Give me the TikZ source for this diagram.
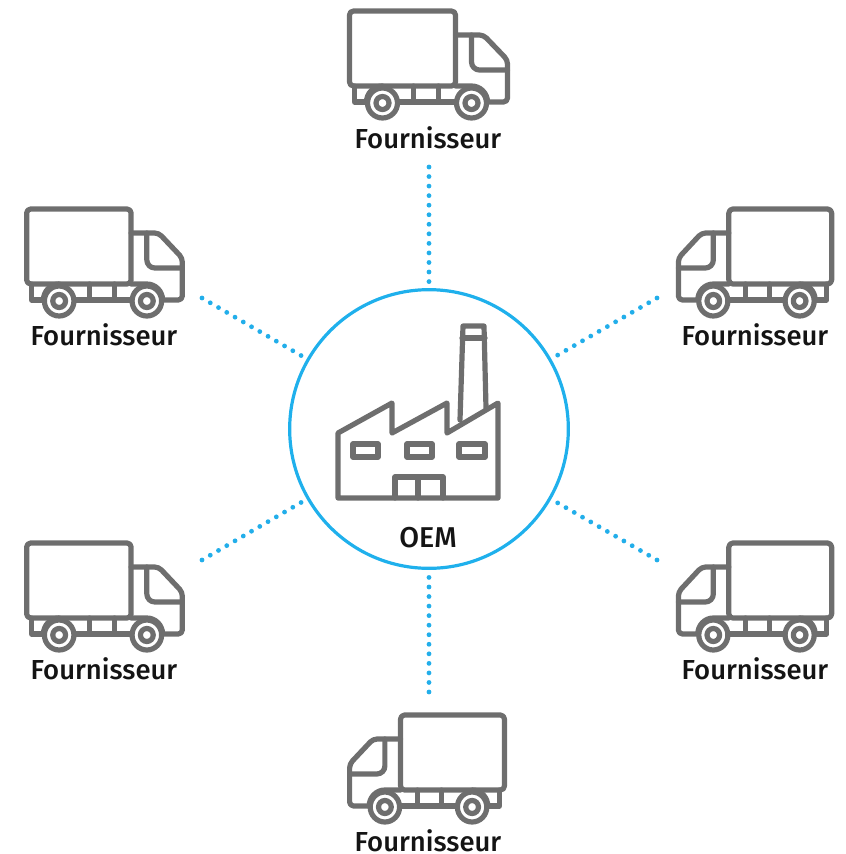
\documentclass[tikz,border=0pt]{standalone}
\usepackage{fontspec}
\usetikzlibrary{calc}
\setmainfont{Fira Sans Medium}
\definecolor{icongray}{HTML}{6E6E6E}
\definecolor{ringblue}{HTML}{1FB0EC}
\definecolor{dotblue}{HTML}{22AEEA}
\tikzset{
  x=.75pt,y=-.75pt,
  icon/.style={draw=icongray,line width=3.9pt,line join=round,line cap=round},
  label/.style={font=\fontsize{20.6pt}{22pt}\selectfont,text=black!92,inner sep=0pt,anchor=base},
  link/.style={draw=dotblue,line width=3.6pt,line cap=round,dash pattern=on 0pt off 7.16pt},
  truck/.pic={
    \draw[icon,rounded corners=3pt] (-78,86) -- (-78,11) -- (28,11) -- (28,86) -- cycle;
    \draw[icon,rounded corners=3pt] (28,35) -- (56,35) -- (80,60) -- (80,102) -- (60,102);
    \draw[icon,rounded corners=6pt] (44,35) -- (44,70) -- (80,70);
    \draw[icon] (-73,86) -- (-73,102) -- (-62,102);
    \draw[icon] (-30,102) -- (29,102);
    \draw[icon] (-14,86) -- (-14,102) (11,86) -- (11,102);
    \draw[icon] (28,86) -- (44,86) arc[start angle=-90,end angle=0,radius=16];
    \draw[icon] (-45,86) arc[start angle=-90,end angle=-180,radius=16];
    \draw[icon,fill=white] (-45,103) circle[radius=15];
    \draw[icon,fill=white] (44,103) circle[radius=15];
    \draw[icon] (-45,103) circle[radius=6.5];
    \draw[icon] (44,103) circle[radius=6.5];
  }
}
\begin{document}
\begin{tikzpicture}
\useasboundingbox (0,0) rectangle (846,854);
\node[draw=ringblue,line width=2.4pt,circle,minimum size=209pt,inner sep=0pt] (oem) at (429,429) {};
% factory
\draw[icon] (338,498) -- (338,433) -- (392,403) -- (392,433) -- (447,403) -- (447,433) -- (498,403) -- (498,498) -- cycle;
\draw[icon] (460,420) -- (463,326) -- (484,326) -- (486,408);
\draw[icon] (462,338) -- (485,338);
\draw[icon] (353,444) rectangle (378,457);
\draw[icon] (407,444) rectangle (432,457);
\draw[icon] (459,444) rectangle (485,457);
\draw[icon] (395,498) -- (395,477) -- (443,477) -- (443,498) (418,477) -- (418,498);
\node[label,font=\fontsize{21.5pt}{22pt}\selectfont] (oemlabel) at (428,547) {OEM};
% trucks
\pic at (427.5,0) {truck};
\pic[xscale=.985] at (103.5,198) {truck};
\pic[xscale=.985] at (103.5,532) {truck};
\pic[xscale=-.97] at (756,198) {truck};
\pic[xscale=-.97] at (756,532) {truck};
\pic[xscale=-.98] at (428,704) {truck};
\node[label] (f1) at (428,148) {Fournisseur};
\node[label] (f2) at (104,345) {Fournisseur};
\node[label] (f3) at (104,679) {Fournisseur};
\node[label] (f4) at (755,345) {Fournisseur};
\node[label] (f5) at (755,679) {Fournisseur};
\node[label] (f6) at (428,851) {Fournisseur};
% connector ends
\coordinate (c1) at (429,167);
\coordinate (c2) at (202,298);
\coordinate (c3) at (202,560);
\coordinate (c4) at (657,298);
\coordinate (c5) at (657,560);
\coordinate (c6) at (429,692);
\draw[link] (c1) -- ($(oem.north)+(0,-5)$);
\draw[link] (c2) -- ($(oem.150)+(-5,-2.5)$);
\draw[link] (c3) -- ($(oem.210)+(-5,2.5)$);
\draw[link] (c4) -- ($(oem.30)+(5,-2.5)$);
\draw[link] (c5) -- ($(oem.-30)+(5,2.5)$);
\draw[link] (c6) -- ($(oem.south)+(0,5)$);
\end{tikzpicture}
\end{document}
